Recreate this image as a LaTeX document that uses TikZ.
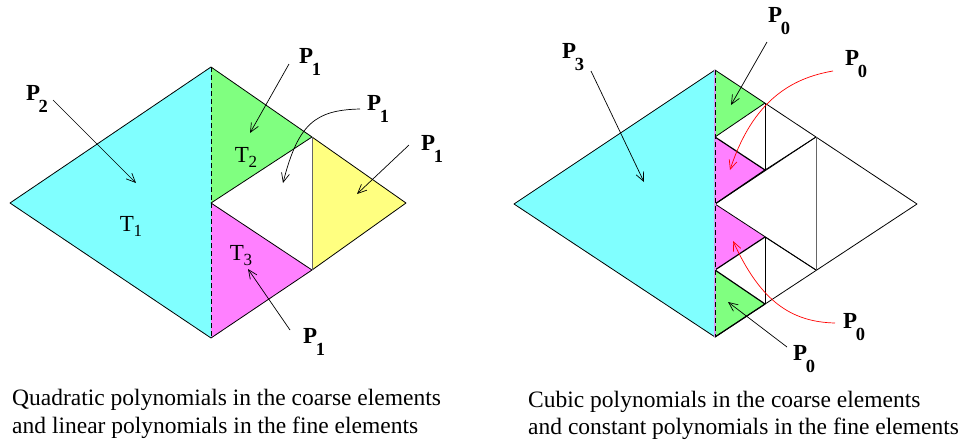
\documentclass[tikz,border=0pt]{standalone}
\usepackage{fontspec}
\setmainfont{Liberation Serif}
\usetikzlibrary{arrows.meta}
\definecolor{cyanf}{HTML}{80FFFF}
\definecolor{greenf}{HTML}{80FF80}
\definecolor{magf}{HTML}{FF80FF}
\definecolor{yelf}{HTML}{FFFF80}
\definecolor{lavf}{HTML}{D49CF4}
\newcommand{\PL}[1]{P\kern-1.5pt\raisebox{-12pt}{\fontsize{18.5}{19}\selectfont #1}}
\newcommand{\TL}[1]{T\kern-0.5pt\raisebox{-5pt}{\fontsize{17}{17}\selectfont #1}}
\begin{document}
\begin{tikzpicture}[x=1pt,y=-1pt,
  edge/.style={draw=black, line width=0.8pt, line join=round},
  thickedge/.style={edge, line width=1.2pt},
  arr/.style={-{Straight Barb[length=9pt,width=8pt]}, line width=0.7pt},
  redarr/.style={arr, draw=red},
  lab/.style={inner sep=0pt, anchor=base west, font=\fontsize{23}{27}\selectfont\bfseries},
  tl/.style={inner sep=0pt, font=\fontsize{23}{27}\selectfont},
  captxt/.style={inner sep=0pt, anchor=base west, font=\fontsize{23.5}{29}\selectfont}]
\useasboundingbox (0,0) rectangle (962,440);
% ---------- left diagram ----------
\coordinate (L) at (10,203);
\coordinate (Tp) at (211,67);
\coordinate (Bt) at (211,338);
\coordinate (R) at (406,203);
\coordinate (M) at (211,203);
\coordinate (Mu) at (312,137);
\coordinate (Md) at (312,270);
\fill[cyanf] (L) -- (Tp) -- (Bt) -- cycle;
\fill[greenf] (Tp) -- (Mu) -- (M) -- cycle;
\fill[magf] (M) -- (Md) -- (Bt) -- cycle;
\fill[yelf] (Mu) -- (R) -- (Md) -- cycle;
\draw[edge] (Tp) -- (L) -- (Bt) -- (Md) -- (R) -- (Mu) -- (Tp);
\draw[edge] (Mu) -- (M) -- (Md);
\draw[edge, draw=black!60] (Mu) -- (Md);
\draw[edge, dashed, dash pattern=on 5pt off 3pt] (Tp) -- (Bt);
\node[tl] (t1) at (131,226) {\TL{1}};
\node[tl] (t2) at (246,157) {\TL{2}};
\node[tl] (t3) at (241,256) {\TL{3}};
\node[lab] (p2) at (26,100) {\PL{2}};
\node[lab] (p1a) at (299,63) {\PL{1}};
\node[lab] (p1b) at (367,110) {\PL{1}};
\node[lab] (p1c) at (421,150) {\PL{1}};
\node[lab] (p1d) at (303,343) {\PL{1}};
\coordinate (a1s) at (53,100);  \coordinate (a1e) at (136,183);
\coordinate (a2s) at (289,64);  \coordinate (a2e) at (250,133);
\coordinate (a3s) at (360,109); \coordinate (a3e) at (283,183);
\coordinate (a4s) at (409,145); \coordinate (a4e) at (357,194);
\coordinate (a5s) at (290,330); \coordinate (a5e) at (248,269);
\draw[arr] (a1s) -- (a1e);
\draw[arr] (a2s) -- (a2e);
\draw[arr] (a3s) .. controls (315,110) and (298,124) .. (a3e);
\draw[arr] (a4s) -- (a4e);
\draw[arr] (a5s) -- (a5e);
% ---------- right diagram ----------
\coordinate (rL) at (514,204);
\coordinate (rT) at (715,70);
\coordinate (rB) at (715,337);
\coordinate (rR) at (917,204);
\coordinate (rM) at (715,204);
\coordinate (rMu) at (816,137);
\coordinate (rMd) at (816,270);
\coordinate (q1) at (765,103);
\coordinate (q2) at (715,137);
\coordinate (q3) at (765,170);
\coordinate (s1) at (765,304);
\coordinate (s2) at (715,270);
\coordinate (s3) at (765,237);
\fill[cyanf] (rL) -- (rT) -- (rB) -- cycle;
\fill[greenf] (rT) -- (q1) -- (q2) -- cycle;
\fill[magf] (q2) -- (q3) -- (rM) -- cycle;
\fill[magf] (rM) -- (s3) -- (s2) -- cycle;
\fill[greenf] (s2) -- (s1) -- (rB) -- cycle;
\draw[edge] (rT) -- (rL) -- (rB) -- (rR) -- (rT);
\draw[edge] (rMu) -- (rM) -- (rMd);
\draw[edge, draw=black!60] (rMu) -- (rMd);
\draw[edge] (q1) -- (q2);
\draw[thickedge] (q2) -- (q3) -- (rM);
\draw[edge] (q3) -- (rMu);
\draw[edge] (q1) -- (q3);
\draw[thickedge] (s2) -- (s1) -- (rB);
\draw[thickedge] (s2) -- (s3);
\draw[edge] (s3) -- (rMd);
\draw[edge] (s1) -- (s3);
\draw[line width=1.2pt, draw=lavf] (rT) -- (rB);
\draw[edge, dashed, dash pattern=on 5pt off 3pt] (rT) -- (rB);
\node[lab] (p3) at (562,58) {\PL{3}};
\node[lab] (p0a) at (768,22) {\PL{0}};
\node[lab] (p0b) at (845,65) {\PL{0}};
\node[lab] (p0c) at (843,328) {\PL{0}};
\node[lab] (p0d) at (793,360) {\PL{0}};
\coordinate (b1s) at (591,71);  \coordinate (b1e) at (644,182);
\coordinate (b2s) at (767,42);  \coordinate (b2e) at (731,105);
\coordinate (b3s) at (833,71);  \coordinate (b3e) at (730,170);
\coordinate (b4s) at (835,323); \coordinate (b4e) at (733,241);
\coordinate (b5s) at (787,347); \coordinate (b5e) at (728,302);
\draw[arr] (b1s) -- (b1e);
\draw[arr] (b2s) -- (b2e);
\draw[redarr] (b3s) .. controls (792,78) and (753,100) .. (b3e);
\draw[redarr] (b4s) .. controls (790,322) and (760,300) .. (b4e);
\draw[arr] (b5s) -- (b5e);
% ---------- captions ----------
\node[captxt] (c1) at (12,405) {Quadratic polynomials in the coarse elements};
\node[captxt] (c2) at (12,433) {and linear polynomials in the fine elements};
\node[captxt] (c3) at (528,407) {Cubic polynomials in the coarse elements};
\node[captxt] (c4) at (528,434) {and constant polynomials in the fine elements};
\end{tikzpicture}
\end{document}
